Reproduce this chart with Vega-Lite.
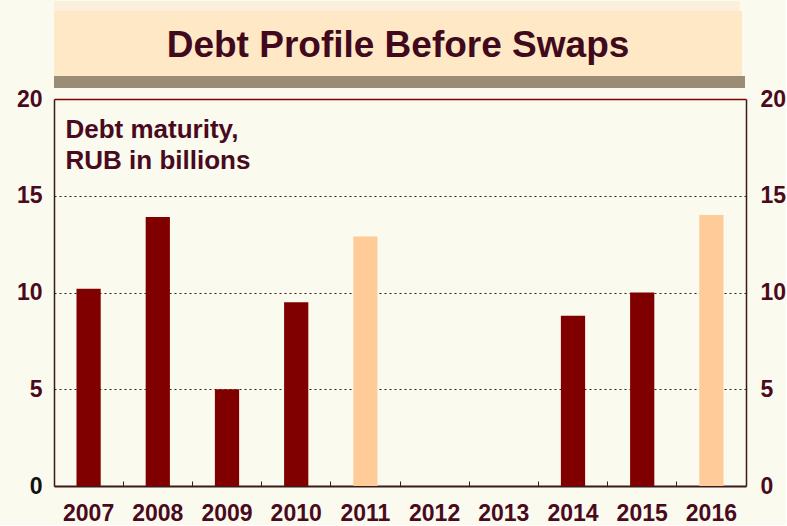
{
  "$schema": "https://vega.github.io/schema/vega-lite/v6.json",
  "background": "#FAFAEE",
  "padding": {"left": 16, "top": 0, "right": 0, "bottom": 0},
  "spacing": 0,
  "bounds": "full",
  "datasets": {
    "debt": [
      {"year": "2007", "value": 10.2, "kind": "dark"},
      {"year": "2008", "value": 13.9, "kind": "dark"},
      {"year": "2009", "value": 5.0, "kind": "dark"},
      {"year": "2010", "value": 9.5, "kind": "dark"},
      {"year": "2011", "value": 12.9, "kind": "light"},
      {"year": "2014", "value": 8.8, "kind": "dark"},
      {"year": "2015", "value": 10.0, "kind": "dark"},
      {"year": "2016", "value": 14.0, "kind": "light"}
    ],
    "head": [{"t": "a", "label": "Debt Profile Before Swaps"}]
  },
  "vconcat": [
    {
      "data": {"name": "head"},
      "width": 686,
      "height": 10,
      "view": {"fill": "#FCF0DD", "stroke": null},
      "mark": {"type": "text", "text": ""},
      "encoding": {}
    },
    {
      "data": {"name": "head"},
      "width": 688,
      "height": 65,
      "view": {"fill": "#FFE8C6", "stroke": null},
      "mark": {"type": "text", "fontSize": 37, "fontWeight": "bold", "color": "#400A1C", "baseline": "middle", "dx": 0, "dy": 2},
      "encoding": {
        "text": {"field": "label"}
      }
    },
    {
      "data": {"name": "head"},
      "width": 691,
      "height": 12,
      "view": {"fill": "#9B8C75", "stroke": null},
      "mark": {"type": "text", "text": ""},
      "encoding": {}
    },
    {
      "data": {"name": "debt"},
      "width": 692,
      "height": 387,
      "view": {"stroke": null, "fill": "#FAFAEE"},
      "layer": [
        {
          "mark": {"type": "bar", "width": {"band": 0.35}},
          "encoding": {
            "x": {
              "field": "year", "type": "nominal",
              "scale": {"domain": ["2007","2008","2009","2010","2011","2012","2013","2014","2015","2016"], "paddingInner": 0, "paddingOuter": 0},
              "axis": {"title": null, "labelAngle": 0, "labelFontSize": 23, "labelFontWeight": "bold", "labelColor": "#4A0A1E", "labelPadding": 21, "tickSize": -5, "tickColor": "#3A1A1A", "tickWidth": 1, "bandPosition": 0, "domainColor": "#3A1A1A", "domainWidth": 2, "grid": false}
            },
            "y": {
              "field": "value", "type": "quantitative",
              "scale": {"domain": [0, 20], "nice": false},
              "axis": {
                "orient": "left", "values": [0, 5, 10, 15, 20],
                "grid": true,
                "gridDash": {"condition": {"test": "datum.value == 20", "value": []}, "value": [2, 3]},
                "gridColor": {"condition": {"test": "datum.value == 20", "value": "#800000"}, "value": "#222222"},
                "gridWidth": {"condition": {"test": "datum.value == 20", "value": 1.5}, "value": 1},
                "gridOpacity": {"condition": {"test": "datum.value == 0", "value": 0}, "value": 1},
                "labelFontSize": 23, "labelFontWeight": "bold",
                "labelColor": {"condition": {"test": "datum.value == 0", "value": "#111111"}, "value": "#4A0A1E"},
                "labelPadding": 12, "tickSize": 0,
                "domainColor": "#3A1A1A", "domainWidth": 1.5,
                "title": ["Debt maturity,", "RUB in billions"],
                "titleAngle": 0, "titleAlign": "left", "titleBaseline": "alphabetic",
                "titleX": 11, "titleY": 38,
                "titleFontSize": 26, "titleFontWeight": "bold", "titleColor": "#4A0A1E", "titleLineHeight": 31
              }
            },
            "color": {"field": "kind", "type": "nominal", "scale": {"domain": ["dark", "light"], "range": ["#800000", "#FFCC99"]}, "legend": null}
          }
        },
        {
          "mark": {"type": "bar", "width": {"band": 0.35}, "opacity": 0},
          "encoding": {
            "x": {"field": "year", "type": "nominal"},
            "y": {
              "field": "value", "type": "quantitative",
              "scale": {"domain": [0, 20], "nice": false},
              "axis": {
                "orient": "right", "values": [0, 5, 10, 15, 20], "grid": false,
                "labelFontSize": 23, "labelFontWeight": "bold", "labelColor": "#4A0A1E",
                "labelPadding": 14, "tickSize": 0,
                "domainColor": "#3A1A1A", "domainWidth": 1.5, "title": null
              }
            }
          }
        }
      ],
      "resolve": {"scale": {"y": "independent"}, "axis": {"y": "independent"}}
    }
  ],
  "config": {"font": "Liberation Sans", "view": {"stroke": null}}
}
